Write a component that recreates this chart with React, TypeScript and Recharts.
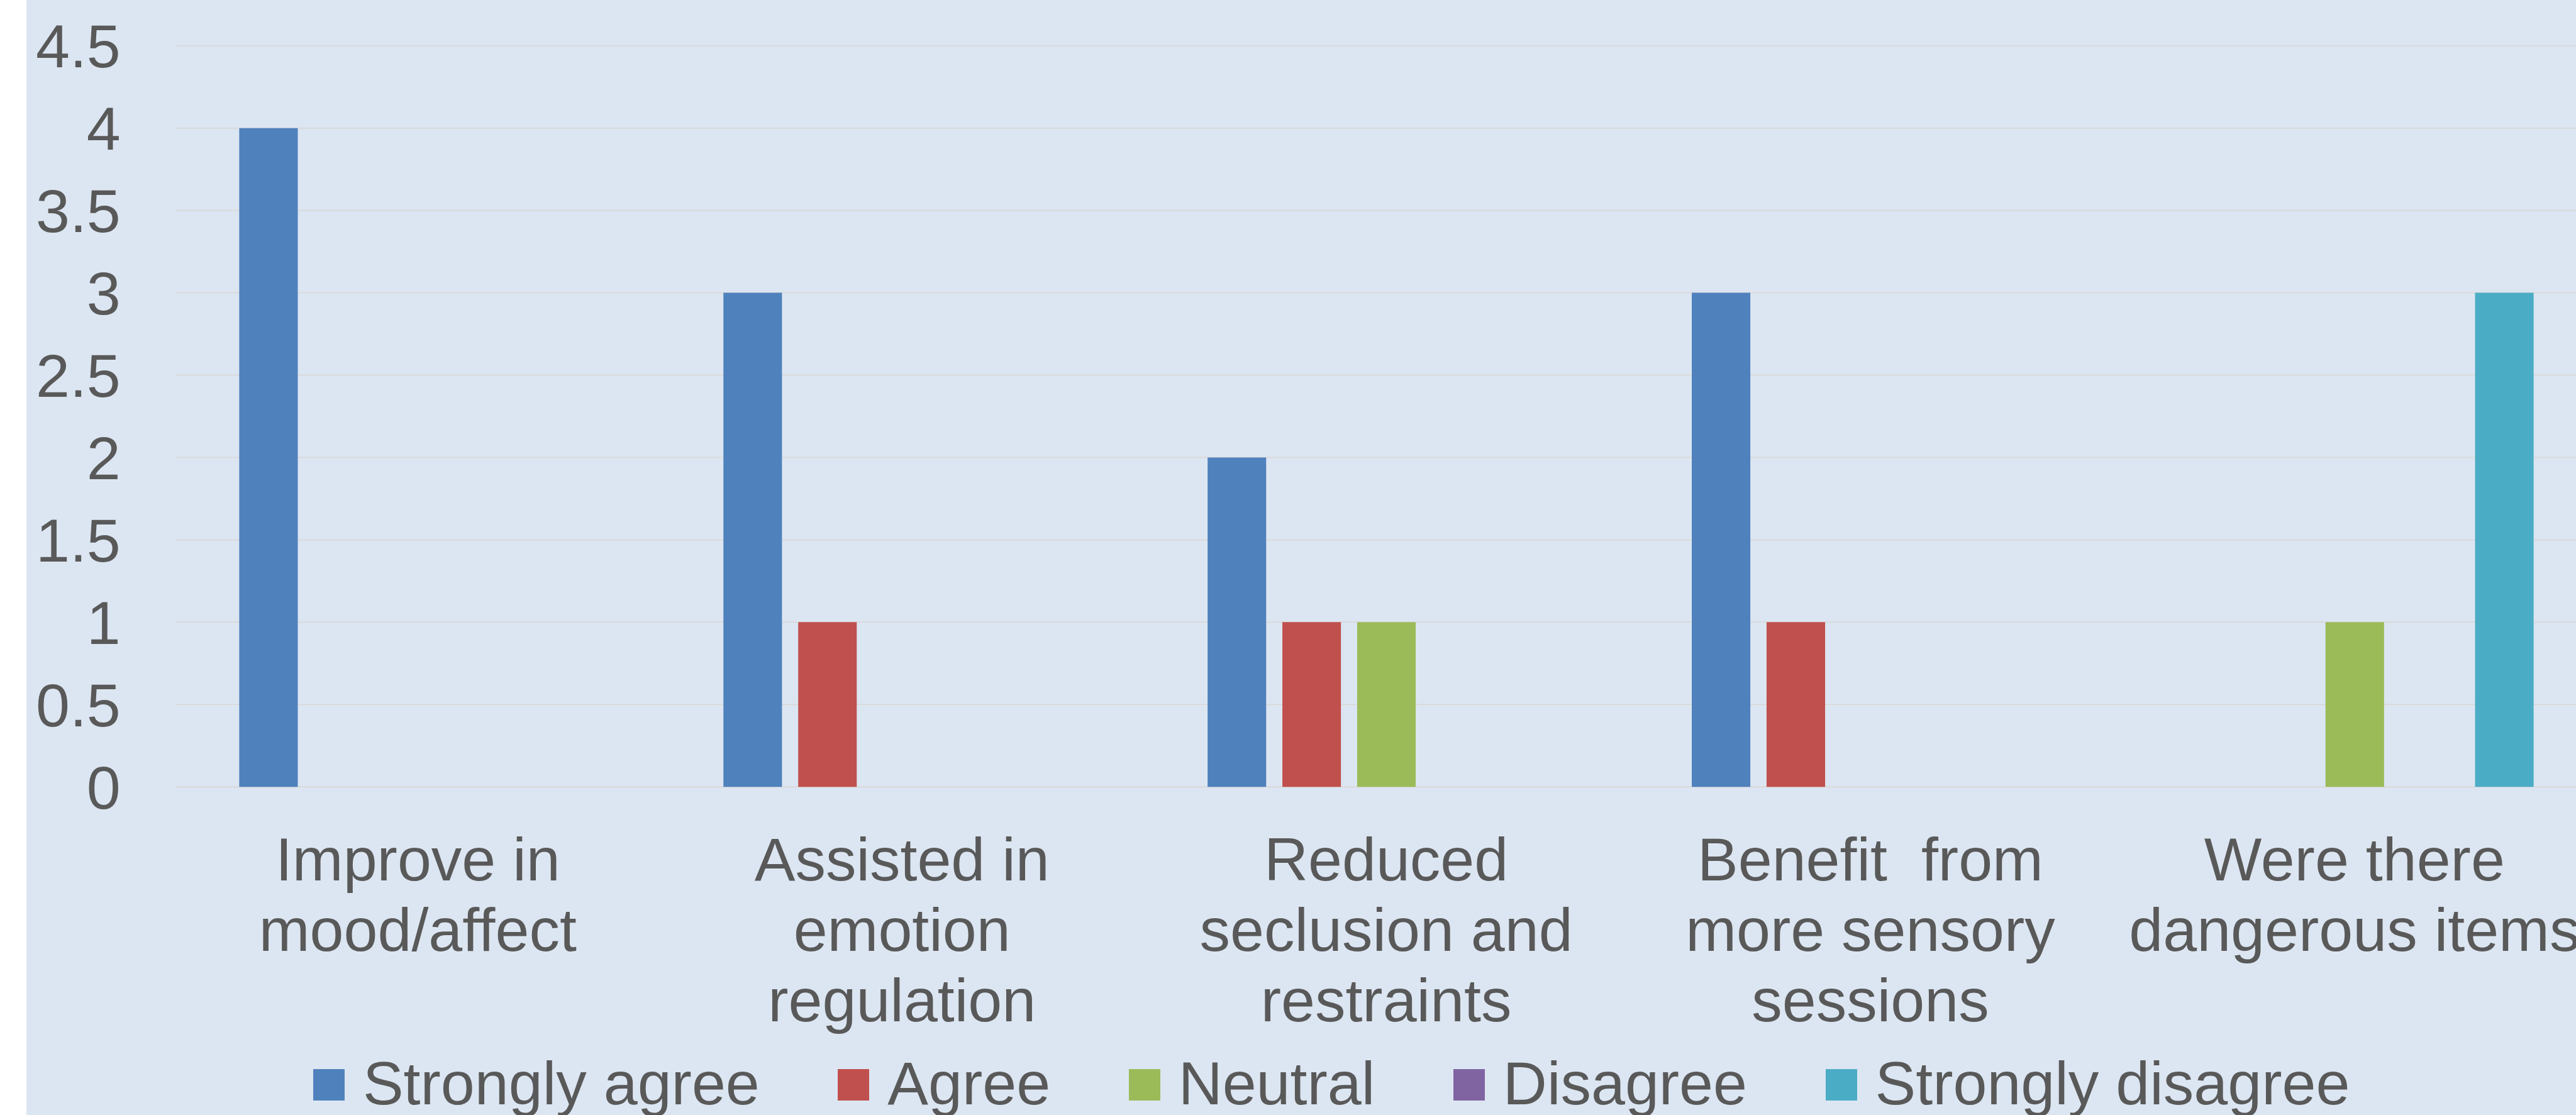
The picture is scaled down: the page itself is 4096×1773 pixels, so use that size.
import React from 'react';
import { BarChart, Bar, XAxis, YAxis, CartesianGrid, Legend } from 'recharts';

const categories = [
  'Improve in\nmood/affect',
  'Assisted in\nemotion\nregulation',
  'Reduced\nseclusion and\nrestraints',
  'Benefit  from\nmore sensory\nsessions',
  'Were there\ndangerous items',
];
const stronglyAgree = [4, 3, 2, 3, 0];
const agree = [0, 1, 1, 1, 0];
const neutral = [0, 0, 1, 0, 1];
const disagree = [0, 0, 0, 0, 0];
const stronglyDisagree = [0, 0, 0, 0, 3];
const yTicks = [0, 0.5, 1, 1.5, 2, 2.5, 3, 3.5, 4, 4.5];

const seriesNames = ['Strongly agree', 'Agree', 'Neutral', 'Disagree', 'Strongly disagree'];
const seriesColors = ['#4F81BD', '#C0504D', '#9BBB59', '#8064A2', '#4BACC6'];
const seriesValues = [stronglyAgree, agree, neutral, disagree, stronglyDisagree];

const data = categories.map((c, i) => {
  const row: Record<string, string | number> = { category: c };
  seriesNames.forEach((s, k) => {
    row[s] = seriesValues[k][i];
  });
  return row;
});

const FONT = '"Liberation Sans", Arial, sans-serif';
const TEXT = '#595959';
const FS = 97;

const CategoryTick = (props: any) => {
  const { x, y, payload } = props;
  const lines = String(payload.value).split('\n');
  return (
    <text
      x={x}
      y={y}
      textAnchor="middle"
      fill={TEXT}
      fontSize={FS}
      fontFamily={FONT}
      style={{ whiteSpace: 'pre' }}
    >
      {lines.map((l, i) => (
        <tspan key={i} x={x} dy={i === 0 ? 148.4 : 112.2}>
          {l}
        </tspan>
      ))}
    </text>
  );
};

const renderLegend = (props: any) => {
  const payload = [...(props.payload || [])].sort(
    (a: any, b: any) => seriesNames.indexOf(a.value) - seriesNames.indexOf(b.value)
  );
  return (
    <div style={{ display: 'flex', flexDirection: 'row', alignItems: 'flex-start', whiteSpace: 'nowrap' }}>
      {payload.map((p: any, i: number) => (
        <div
          key={i}
          style={{ display: 'flex', alignItems: 'flex-start', marginRight: i < payload.length - 1 ? 124.5 : 0 }}
        >
          <div style={{ width: 50, height: 50, marginTop: 25.7, background: p.color, marginRight: 29 }} />
          <span style={{ fontFamily: FONT, fontSize: FS, lineHeight: `${FS}px`, color: TEXT }}>{p.value}</span>
        </div>
      ))}
    </div>
  );
};

export default function App() {
  return (
    <div
      style={{ position: 'absolute', left: 0, top: 0, width: 4096, height: 1773, overflow: 'hidden', background: '#FFFFFF' }}
    >
      <div style={{ position: 'absolute', left: 41.5, top: 0, right: 0, bottom: 0, background: '#DCE6F2' }} />
      <div style={{ position: 'absolute', left: 0, top: 0 }}>
        <BarChart
          width={4140}
          height={1773}
          data={data}
          margin={{ top: 72.8, right: 11.2, left: 0, bottom: 321.8 }}
          barGap={25.8}
        >
          <CartesianGrid vertical={false} stroke="#D9D9D9" strokeWidth={2} />
          <XAxis
            dataKey="category"
            interval={0}
            axisLine={false}
            tickLine={false}
            tickSize={0}
            tickMargin={0}
            height={200}
            tick={<CategoryTick />}
          />
          <YAxis
            domain={[0, 4.5]}
            ticks={yTicks}
            width={279.4}
            axisLine={false}
            tickLine={false}
            tickSize={0}
            tickMargin={87.6}
            tick={{ fill: TEXT, fontSize: FS, fontFamily: FONT }}
          />
          <Legend
            layout="horizontal"
            verticalAlign="middle"
            align="center"
            itemSorter={null as any}
            wrapperStyle={{ left: 497.9, top: 1674.3, width: 3700, height: 100 }}
            content={renderLegend}
          />
          {seriesNames.map((s, k) => (
            <Bar key={s} dataKey={s} name={s} fill={seriesColors[k]} barSize={93.1} isAnimationActive={false} />
          ))}
        </BarChart>
      </div>
    </div>
  );
}
